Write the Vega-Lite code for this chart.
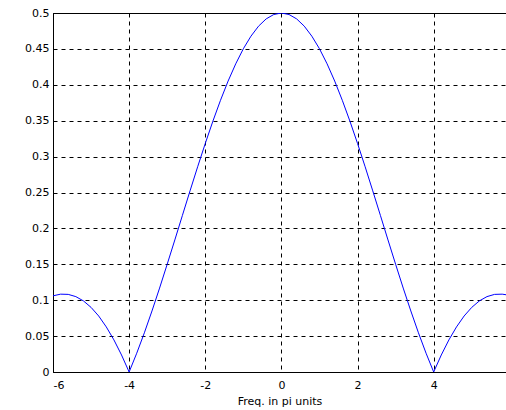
{
  "$schema": "https://vega.github.io/schema/vega-lite/v6.json",
  "width": 453,
  "height": 359,
  "autosize": "none",
  "padding": {"left": 53, "top": 13, "right": 0, "bottom": 38},
  "background": "white",
  "config": {
    "view": {"stroke": "black", "strokeWidth": 1},
    "font": "DejaVu Sans",
    "axis": {
      "domainColor": "black",
      "labelColor": "black",
      "labelFontSize": 11,
      "titleFontSize": 11,
      "titleFontWeight": "normal",
      "titleColor": "black",
      "grid": true,
      "gridColor": "black",
      "gridDash": [4, 4],
      "gridOpacity": 1,
      "gridWidth": 1,
      "ticks": false
    }
  },
  "data": {
    "values": [
      {"x": -6.0, "y": 0.1061}, {"x": -5.8, "y": 0.1084}, {"x": -5.6, "y": 0.1081}, {"x": -5.4, "y": 0.1050},
      {"x": -5.2, "y": 0.0990}, {"x": -5.0, "y": 0.0900}, {"x": -4.8, "y": 0.0780}, {"x": -4.6, "y": 0.0628},
      {"x": -4.4, "y": 0.0447}, {"x": -4.2, "y": 0.0237}, {"x": -4.0, "y": 0.0}, {"x": -3.8, "y": 0.0262},
      {"x": -3.6, "y": 0.0546}, {"x": -3.4, "y": 0.0850}, {"x": -3.2, "y": 0.1169}, {"x": -3.0, "y": 0.1501},
      {"x": -2.8, "y": 0.1839}, {"x": -2.6, "y": 0.2182}, {"x": -2.4, "y": 0.2523}, {"x": -2.2, "y": 0.2858},
      {"x": -2.0, "y": 0.3183}, {"x": -1.8, "y": 0.3493}, {"x": -1.6, "y": 0.3784}, {"x": -1.4, "y": 0.4052},
      {"x": -1.2, "y": 0.4292}, {"x": -1.0, "y": 0.4502}, {"x": -0.8, "y": 0.4677}, {"x": -0.6, "y": 0.4817},
      {"x": -0.4, "y": 0.4918}, {"x": -0.2, "y": 0.4979}, {"x": 0.0, "y": 0.5}, {"x": 0.2, "y": 0.4979},
      {"x": 0.4, "y": 0.4918}, {"x": 0.6, "y": 0.4817}, {"x": 0.8, "y": 0.4677}, {"x": 1.0, "y": 0.4502},
      {"x": 1.2, "y": 0.4292}, {"x": 1.4, "y": 0.4052}, {"x": 1.6, "y": 0.3784}, {"x": 1.8, "y": 0.3493},
      {"x": 2.0, "y": 0.3183}, {"x": 2.2, "y": 0.2858}, {"x": 2.4, "y": 0.2523}, {"x": 2.6, "y": 0.2182},
      {"x": 2.8, "y": 0.1839}, {"x": 3.0, "y": 0.1501}, {"x": 3.2, "y": 0.1169}, {"x": 3.4, "y": 0.0850},
      {"x": 3.6, "y": 0.0546}, {"x": 3.8, "y": 0.0262}, {"x": 4.0, "y": 0.0}, {"x": 4.2, "y": 0.0237},
      {"x": 4.4, "y": 0.0447}, {"x": 4.6, "y": 0.0628}, {"x": 4.8, "y": 0.0780}, {"x": 5.0, "y": 0.0900},
      {"x": 5.2, "y": 0.0990}, {"x": 5.4, "y": 0.1050}, {"x": 5.6, "y": 0.1081}, {"x": 5.8, "y": 0.1084},
      {"x": 5.9, "y": 0.1076}
    ]
  },
  "mark": {"type": "line", "color": "#0000ff", "strokeWidth": 1, "clip": true},
  "encoding": {
    "x": {
      "field": "x",
      "type": "quantitative",
      "scale": {"domain": [-6, 5.9], "nice": false, "zero": false},
      "axis": {
        "values": [-6, -4, -2, 0, 2, 4],
        "title": "Freq. in pi units",
        "labelPadding": 7,
        "titlePadding": 5,
        "labelExpr": "'' + datum.value"
      }
    },
    "y": {
      "field": "y",
      "type": "quantitative",
      "scale": {"domain": [0, 0.5], "nice": false},
      "axis": {
        "values": [0, 0.05, 0.1, 0.15, 0.2, 0.25, 0.3, 0.35, 0.4, 0.45, 0.5],
        "title": null,
        "labelPadding": 4,
        "labelExpr": "'' + datum.value"
      }
    }
  }
}
